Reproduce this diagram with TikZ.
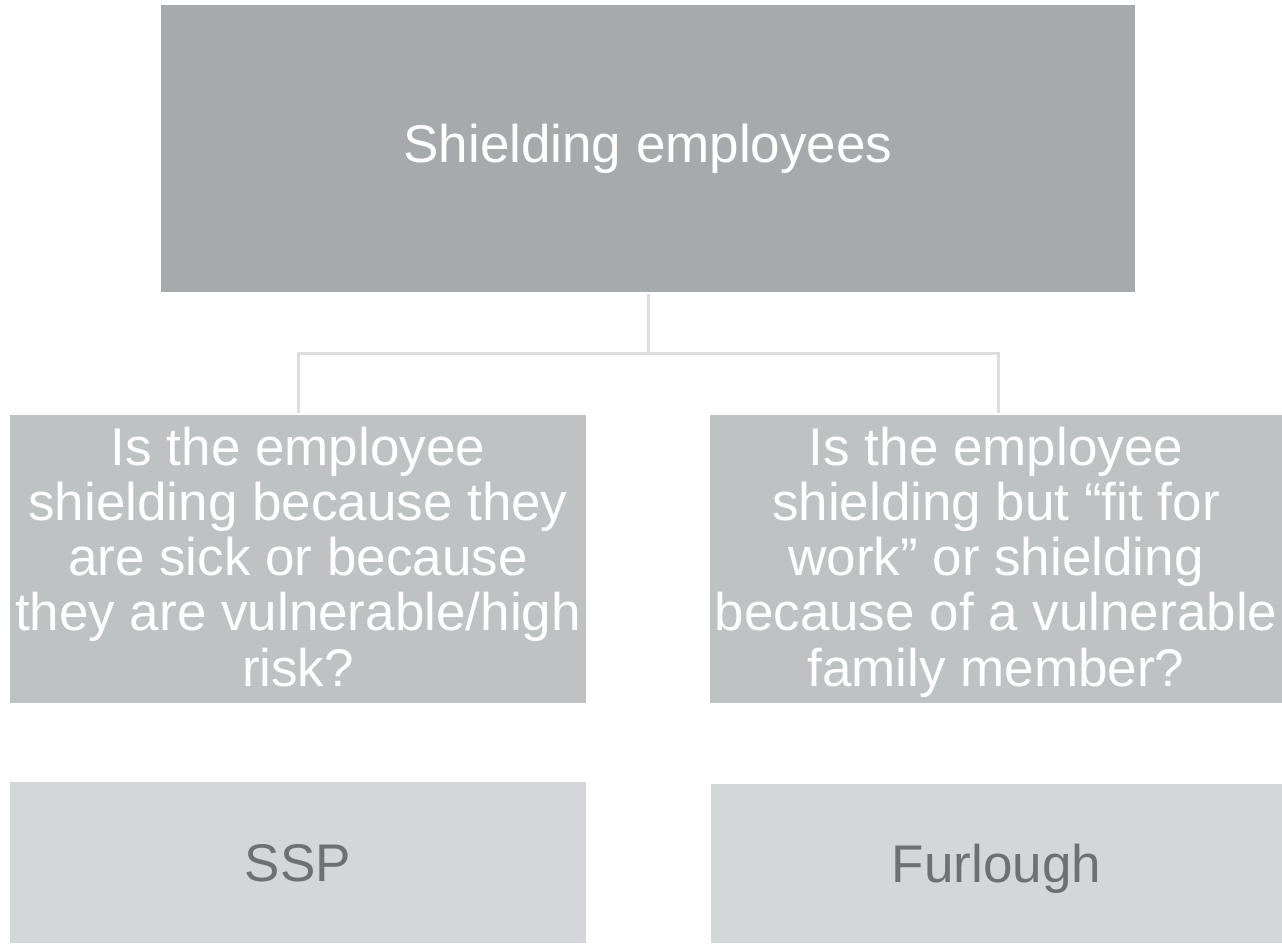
\documentclass[tikz,border=0pt]{standalone}
\usepackage{fontspec}
\setmainfont{Liberation Sans}
\definecolor{topgray}{HTML}{A7AAAD}
\definecolor{midgray}{HTML}{BFC2C3}
\definecolor{lowgray}{HTML}{D3D7DA}
\definecolor{lowtext}{HTML}{6F7072}
\definecolor{conngray}{HTML}{DDDEE0}
\newcommand{\firststrut}{\rule{0pt}{50pt}}
\newcommand{\laststrut}{\rule[-17pt]{0pt}{17pt}}
\tikzset{
  boxbase/.style={rectangle, inner sep=0pt, outer sep=0pt, align=center,
    font=\fontsize{53}{55.25}\selectfont},
  topbox/.style={boxbase, fill=topgray, text=white, text height=40pt, text depth=10.5pt},
  qbox/.style={boxbase, fill=midgray, text=white},
  ansbox/.style={boxbase, fill=lowgray, text=lowtext, text height=48pt, text depth=11pt},
  conn/.style={draw=conngray, line width=3pt}
}
\begin{document}
\begin{tikzpicture}[x=1pt,y=-1pt]
\useasboundingbox (0,0) rectangle (1282,944);
\node[topbox, minimum width=974pt, minimum height=286.5pt] (top) at (648,148.25) {Shielding employees};
\node[qbox, minimum width=576pt, minimum height=288pt] (q1) at (298,559)
  {\firststrut Is the employee\\shielding because they\\are sick or because\\they are vulnerable/high\\risk?\laststrut};
\node[qbox, minimum width=572pt, minimum height=288pt] (q2) at (996,559)
  {\firststrut Is the employee\\shielding but “fit for\\work” or shielding\\because of a vulnerable\\family member?\laststrut};
\node[ansbox, minimum width=576pt, minimum height=161pt] (a1) at (298,862.5) {SSP};
\node[ansbox, minimum width=571pt, minimum height=159pt] (a2) at (996.5,863.5) {Furlough};
\draw[conn] ([yshift=-2.5pt]top.south) -- ++(0,59) coordinate (j);
\draw[conn] ([yshift=2pt]q1.north) |- (j) -| ([xshift=2pt,yshift=2pt]q2.north);
\end{tikzpicture}
\end{document}
